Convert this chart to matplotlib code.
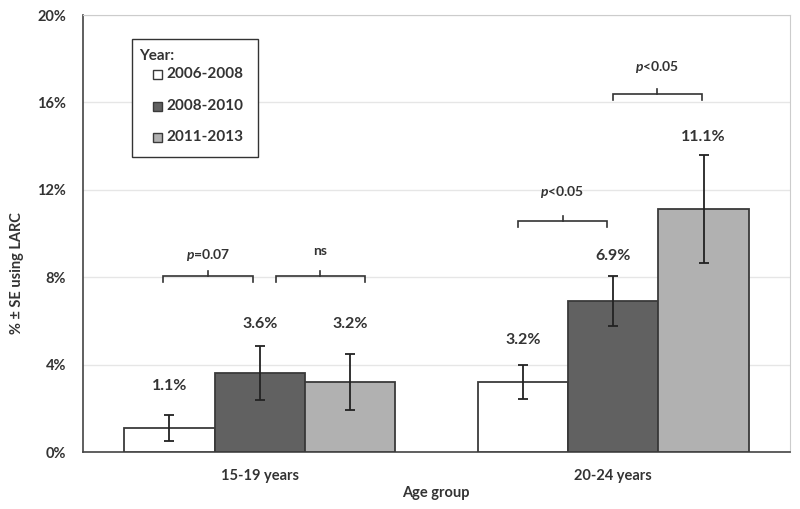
import matplotlib
matplotlib.use("Agg")
import matplotlib.pyplot as plt
from matplotlib.patches import Rectangle
import numpy as np

plt.rcParams['font.family'] = ['Lato', 'DejaVu Sans']
plt.rcParams['mathtext.fontset'] = 'custom'
plt.rcParams['mathtext.it'] = 'Lato:italic:bold'
plt.rcParams['mathtext.rm'] = 'Lato:bold'

categories = ["15-19 years", "20-24 years"]
series = ["2006-2008", "2008-2010", "2011-2013"]
values = {
    "2006-2008": [1.1, 3.2],
    "2008-2010": [3.6, 6.9],
    "2011-2013": [3.2, 11.1],
}
errors = {
    "2006-2008": [0.6, 0.78],
    "2008-2010": [1.23, 1.15],
    "2011-2013": [1.27, 2.47],
}
value_labels = {
    "2006-2008": ["1.1%", "3.2%"],
    "2008-2010": ["3.6%", "6.9%"],
    "2011-2013": ["3.2%", "11.1%"],
}
label_y = {
    "2006-2008": [3.02, 5.13],
    "2008-2010": [5.86, 8.97],
    "2011-2013": [5.86, 14.43],
}
colors = {"2006-2008": "#ffffff", "2008-2010": "#616161", "2011-2013": "#b1b1b1"}

# significance brackets: x0, x1 (data), y (%), label, label y
br_x0 = [-0.273, 0.045, 0.731, 0.998]
br_x1 = [-0.020, 0.298, 0.982, 1.250]
br_y = [8.05, 8.05, 10.57, 16.37]
br_text = [r"$\mathit{p}$=0.07", "ns", r"$\mathit{p}$<0.05", r"$\mathit{p}$<0.05"]
br_text_y = [9.0, 9.2, 11.9, 17.6]

yticks = [0, 4, 8, 12, 16, 20]

W, H = 800, 509
fig = plt.figure(figsize=(8, 5.09), dpi=100)
ax = fig.add_axes([83/W, (H-452)/H, (790-83)/W, (452-15)/H])

width = 0.256
x = np.arange(len(categories))
edge = "#3a3a3a"
txtc = "#333333"
for i, s in enumerate(series):
    xs = x + (i - 1) * width
    ax.bar(xs, values[s], width=width, color=colors[s], edgecolor=edge,
           linewidth=1.3, zorder=3)
    ax.errorbar(xs, values[s], yerr=errors[s], fmt='none', ecolor="#222222",
                elinewidth=1.3, capsize=3.5, capthick=1.3, zorder=4)
    for xi, ly, lab in zip(xs, label_y[s], value_labels[s]):
        ax.text(xi, ly, lab, ha='center', va='center', fontsize=11.5,
                fontweight='bold', color=txtc, zorder=5)

for x0, x1, y, t, ty in zip(br_x0, br_x1, br_y, br_text, br_text_y):
    xm = (x0 + x1) / 2
    ax.plot([x0, x0, x1, x1], [y - 0.25, y, y, y - 0.25], color=txtc,
            lw=1.2, zorder=5, solid_joinstyle='miter')
    ax.plot([xm, xm], [y, y + 0.25], color=txtc, lw=1.2, zorder=5)
    ax.text(xm, ty, t, ha='center', va='center', fontsize=10,
            fontweight='bold', color=txtc, zorder=5)

ax.set_xlim(-0.5, 1.5)
ax.set_ylim(0, 20)
ax.set_yticks(yticks)
ax.set_yticklabels([f"{v}%" for v in yticks])
ax.set_xticks(x)
ax.set_xticklabels(categories)
for lab in ax.get_xticklabels() + ax.get_yticklabels():
    lab.set_fontweight('bold')
    lab.set_fontsize(10.5)
    lab.set_color(txtc)
ax.tick_params(axis='x', length=0, pad=12)
ax.tick_params(axis='y', length=0, pad=12)
ax.grid(axis='y', color="#e6e6e6", lw=1, zorder=0)
ax.set_axisbelow(True)
for sp in ('left', 'bottom'):
    ax.spines[sp].set_color("#444444")
    ax.spines[sp].set_linewidth(1.2)
for sp in ('top', 'right'):
    ax.spines[sp].set_color("#cccccc")

fig.text(436/W, 1 - 493/H, "Age group", ha='center', va='center',
         fontsize=10.5, fontweight='bold', color=txtc)
fig.text(17/W, 1 - 273/H, "% ± SE using LARC", ha='center', va='center',
         rotation=90, fontsize=10.5, fontweight='bold', color=txtc)

# legend, drawn as a framed box in figure coordinates
fig.patches.append(Rectangle((132/W, 1 - 157/H), (258-132)/W, (157-39)/H,
                             transform=fig.transFigure, facecolor='white',
                             edgecolor="#333333", linewidth=1.0, zorder=10))
fig.text(139/W, 1 - 56/H, "Year:", ha='left', va='center', fontsize=11,
         fontweight='bold', color=txtc, zorder=11)
entry_y = [74, 106, 137]
for s, ey in zip(series, entry_y):
    fig.patches.append(Rectangle((153/W, 1 - (ey + 4.5)/H), 9/W, 9/H,
                                 transform=fig.transFigure, facecolor=colors[s],
                                 edgecolor=edge, linewidth=1.0, zorder=11))
    fig.text(166/W, 1 - ey/H, s, ha='left', va='center', fontsize=11,
             fontweight='bold', color=txtc, zorder=11)

fig.savefig("out.png", dpi=100)
